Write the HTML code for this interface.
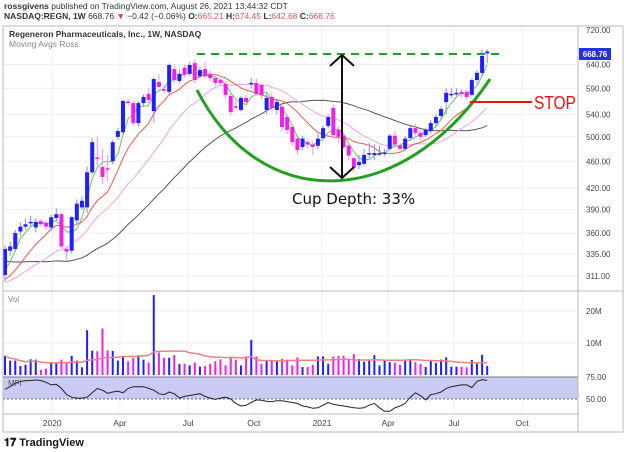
<!DOCTYPE html>
<html><head><meta charset="utf-8"><style>
body{margin:0;background:#fff;}
svg{display:block;font-family:"Liberation Sans","DejaVu Sans",sans-serif;}
</style></head><body>
<svg id="chart" width="624" height="452" viewBox="0 0 624 452">
<rect width="624" height="452" fill="#fff"/>
<text x="4" y="9" font-size="8.5" fill="#333"><tspan font-weight="bold">rossgivens</tspan> published on TradingView.com, August 26, 2021 13:44:32 CDT</text>
<text x="4" y="19" font-size="8.5" fill="#333"><tspan font-weight="bold">NASDAQ:REGN, 1W</tspan> 668.76 <tspan fill="#e53935">▼</tspan> −0.42 (−0.06%) <tspan font-weight="bold">O:</tspan><tspan fill="#ef5350">665.21</tspan> <tspan font-weight="bold">H:</tspan><tspan fill="#ef5350">674.45</tspan> <tspan font-weight="bold">L:</tspan><tspan fill="#ef5350">642.68</tspan> <tspan font-weight="bold">C:</tspan><tspan fill="#ef5350">668.76</tspan></text>
<g id="grid"></g>
<g id="panes"></g>
<g id="marks"></g>
<rect x="3" y="26" width="620" height="406" fill="none" stroke="#b8b8b8"/>
<line x1="578" y1="26" x2="578" y2="432" stroke="#b8b8b8"/>
<line x1="3" y1="291" x2="623" y2="291" stroke="#b8b8b8"/>
<line x1="3" y1="414" x2="578" y2="414" stroke="#b8b8b8"/>
<text x="9" y="37" font-size="8.5" font-weight="bold" fill="#333">Regeneron Pharmaceuticals, Inc., 1W, NASDAQ</text>
<text x="9" y="47" font-size="8.5" fill="#888">Moving Avgs Ross</text>
<text x="8" y="302" font-size="8" fill="#888">Vol</text>
<text x="8" y="386" font-size="8" fill="#555">MFI</text>
<g id="anno">
<line x1="197" y1="54" x2="500" y2="54" stroke="#22a022" stroke-width="2" stroke-dasharray="8,6"/>
<path d="M197,90 C260,213 400,213 490,79" fill="none" stroke="#22a022" stroke-width="3"/>
<g stroke="#111" stroke-width="2" fill="none">
<line x1="342" y1="55" x2="342" y2="178"/>
<polyline points="330,66 342,55 354,66"/>
<polyline points="330,167 342,178 354,167"/>
</g>
<text x="292" y="204" font-size="15" fill="#111" font-family="'DejaVu Sans',sans-serif">Cup Depth: 33%</text>
<line x1="470" y1="102" x2="532" y2="102" stroke="#ee1111" stroke-width="2"/>
<text x="534" y="109" font-size="18" fill="#ee1111" textLength="42" lengthAdjust="spacingAndGlyphs">STOP</text>
</g>
<g id="axis"></g>
<rect x="579" y="48" width="32" height="12" fill="#2231e0"/>
<text x="595" y="57" font-size="8" fill="#fff" text-anchor="middle" font-weight="bold">668.76</text>
<text x="4" y="446" font-size="11" font-weight="bold" fill="#131722">𝟏𝟕 TradingView</text>
</svg>
<script>
const opens=[312,339,341,362,368,373,367,375,373,367,379,384,341,339,376,393,393,443,466,451,449,460,500,508,564,561,524,561,579,546,603,588,583,630,605,633,620,643,615,630,620,611,607,599,575,555,548,571,600,601,597,548,573,548,554,535,517,497,483,491,487,485,498,519,552,512,502,485,465,454,456,472,470,472,473,480,502,485,480,498,515,507,503,510,524,537,563,578,580,583,583,577,607,622,665];
const closes=[341,344,360,368,371,374,374,371,368,380,384,344,338,380,398,402,443,491,464,436,447,491,510,565,562,524,561,573,567,609,593,587,639,607,620,618,639,607,628,615,611,601,601,577,544,554,571,563,601,579,577,571,552,563,517,512,491,478,497,487,483,497,515,535,503,500,483,469,450,459,470,473,473,473,474,502,487,480,497,515,507,500,512,524,535,550,581,579,581,579,573,607,622,659,669];
const highs=[345,350,364,374,378,382,378,378,376,383,392,386,344,382,404,408,452,498,500,480,470,495,515,568,570,565,565,578,590,612,620,598,642,640,630,640,645,650,635,645,628,615,612,605,580,565,575,578,612,610,600,580,582,570,558,540,522,500,502,495,492,505,520,540,558,518,505,490,468,470,480,490,488,485,480,505,510,490,502,520,522,512,516,530,540,555,590,590,590,588,588,610,628,674,674];
const lows=[305,333,338,357,364,367,361,368,364,363,376,342,328,336,372,390,385,440,450,425,430,455,495,505,555,520,518,556,560,525,590,580,578,600,600,612,615,600,610,610,605,595,595,570,538,548,545,557,590,575,570,540,545,540,510,505,485,470,478,480,470,480,495,515,498,490,480,462,444,448,454,465,462,468,468,476,484,476,476,494,502,495,500,505,518,530,540,570,575,572,568,575,600,615,643];
const volumes=[6,4.5,4.5,2.8,3.2,4.9,4.8,1.6,2,3.7,3.7,4.8,3.9,6,4.5,2.4,14,7.6,7.4,14.5,7.7,7.5,4.5,6,4.3,5.3,6.2,4.8,3.9,25,7,5.4,5.4,6.2,3.5,3.5,3,3.9,2.6,2.8,3.5,4.3,4.9,3,5.6,4.8,3,5.8,11,5.8,3.5,4.5,4.5,4.5,5,4.8,3,5.5,2.5,2.5,3.2,5.8,5.8,3.5,5.8,6,6,5,6.5,5,4.2,4.5,6.2,3,4.5,4,3.8,3.2,4.5,4.5,4,3.5,2.5,4.5,3.8,4.8,5.5,2.6,2.6,2.6,2.4,4.7,3.8,6.3,2.8];
const mfi=[61,64,68,70,70.8,71,71.6,71,69,66,66.7,62,55,52,51,51,52,57,62,60,56.5,58,59,57,62,64,64,64,62,60,56,55,58,56,51,53,54,55,56,53,51,49.6,51,52,50,45,42,42.8,46,49,48.5,47.5,47,48,48,47,46,45,42,41,39.4,40,43,46,44,43,42,41,40,39.5,40,43,45,40,36,36,40,42,45,52,57,54,49,55,56,58,62,64,65,66,66,63,70,72,71];
const priorCloses=[380,375,372,368,365,362,370,375,372,368,360,355,350,345,340,335,330,325,320,315,310,305,300,302,298,295,300,305,300,298,302,305,300,298,295,300,305,310,308,312];
const priceTicks=[720,640,590,540,500,460,420,390,360,335,311];
const volTicks=[20,10];
const mfiTicks=[75,50];
const timeLabels=["2020","Apr","Jul","Oct","2021","Apr","Jul","Oct"];
const timeIdx=[9.2,22.4,35.7,48.5,61.8,74.7,87.5,100.8];

const NS="http://www.w3.org/2000/svg";
function mk(tag,attrs,parent){const e=document.createElementNS(NS,tag);for(const k in attrs)e.setAttribute(k,attrs[k]);parent.appendChild(e);return e;}
const xS=i=>5+i*5.13;
const yP=p=>30+293*Math.log(720/p);
const yV=v=>375-v*3.2;
const yM=v=>377+(75-v)*22/25;
const grid=document.getElementById('grid'),panes=document.getElementById('panes'),marks=document.getElementById('marks'),axis=document.getElementById('axis');

const defs=mk('defs',{},document.getElementById('chart'));
const c1=mk('clipPath',{id:'cMain'},defs);mk('rect',{x:3,y:26,width:575,height:265},c1);
const c2=mk('clipPath',{id:'cVol'},defs);mk('rect',{x:3,y:292,width:575,height:83},c2);

priceTicks.forEach(p=>{
 const l=mk('line',{x1:3,x2:578,y1:yP(p),y2:yP(p),stroke:'#eeeeee'},grid);
 
 
 const t=mk('text',{x:586,y:yP(p)+3,'font-size':8,fill:'#444'},axis);
 t.textContent=p.toFixed(2);
 
 
});
volTicks.forEach(v=>{
 const l=mk('line',{x1:3,x2:578,y1:yV(v),y2:yV(v),stroke:'#eeeeee'},grid);
 
 
 const t=mk('text',{x:586,y:yV(v)+3,'font-size':8,fill:'#444'},axis);
 t.textContent=v+'M';
 
 
});
timeIdx.forEach((ix,k)=>{
 const x=xS(ix);
 const l=mk('line',{x1:x,x2:x,y1:26,y2:414,stroke:'#eeeeee'},grid);
 
 
 const t=mk('text',{x:x,y:426,'font-size':8.5,fill:'#444','text-anchor':'middle'},axis);
 t.textContent=timeLabels[k];
 
 
});

const band=mk('rect',{x:3,y:yM(75),width:575,height:yM(50)-yM(75),fill:'#c9cbf5'},panes);


const l75=mk('line',{x1:3,x2:578,y1:yM(75),y2:yM(75),stroke:'#777'},panes);


const l50=mk('line',{x1:3,x2:578,y1:yM(50),y2:yM(50),stroke:'#666','stroke-dasharray':'2,2'},panes);


mfiTicks.forEach(v=>{
 const t=mk('text',{x:586,y:yM(v)+3,'font-size':8,fill:'#444'},axis);
 t.textContent=v.toFixed(2);
 
 
});

const all=priorCloses.concat(closes),off=priorCloses.length;
function sma(n,i){let s=0,c=0;for(let k=Math.max(0,i-n+1);k<=i;k++){s+=all[k];c++;}return s/c;}
[[40,'#555555','ma-40'],[20,'#f4a0e8','ma-20'],[10,'#f05a4a','ma-10'],[4,'#6cc06c','ma-4']].forEach(([n,col,name])=>{
 const pts=closes.map((c,i)=>xS(i).toFixed(1)+','+yP(sma(n,i+off)).toFixed(1)).join(' ');
 const pl=mk('polyline',{points:pts,fill:'none',stroke:col,'stroke-width':1,'clip-path':'url(#cMain)'},marks);
 
 
});

closes.forEach((c,i)=>{
 const o=opens[i],up=c>=o,x=xS(i);
 const col=up?'#1f1fff':'#f020e8',wc=up?'#8a8aff':'#ff8cf4';
 const g=mk('g',{'clip-path':'url(#cMain)'},marks);
 
 
 mk('line',{x1:x,x2:x,y1:yP(highs[i]),y2:yP(lows[i]),stroke:wc,'stroke-width':1},g);
 const yt=yP(Math.max(o,c)),yb=yP(Math.min(o,c));
 mk('rect',{x:x-2,y:yt,width:4,height:Math.max(1.5,yb-yt),fill:col},g);
 const v=volumes[i];
 const b=mk('rect',{x:x-1,y:yV(v),width:2,height:375-yV(v),fill:col,'clip-path':'url(#cVol)'},marks);
 
 
});
const vpts=volumes.map((v,i)=>{let s=0,c=0;for(let k=Math.max(0,i-19);k<=i;k++){s+=volumes[k];c++;}return xS(i).toFixed(1)+','+yV(s/c).toFixed(1);}).join(' ');
const vm=mk('polyline',{points:vpts,fill:'none',stroke:'#f08080','stroke-width':1.5},marks);


const mpts=mfi.map((v,i)=>xS(i).toFixed(1)+','+yM(v).toFixed(1)).join(' ');
const ml=mk('polyline',{points:mpts,fill:'none',stroke:'#222','stroke-width':1},marks);


</script>
</body></html>
